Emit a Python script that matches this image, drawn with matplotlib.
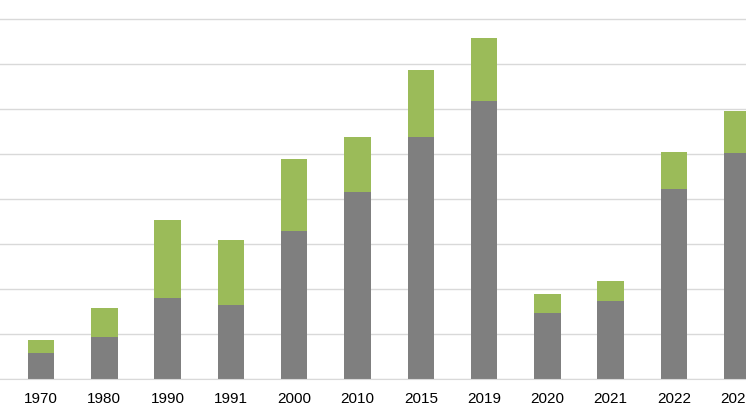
import numpy as np
import matplotlib.pyplot as plt

years = ["1970", "1980", "1990", "1991", "2000", "2010", "2015", "2019", "2020", "2021", "2022", "2023"]
gray_vals = [0.58, 0.93, 1.80, 1.64, 3.29, 4.16, 5.38, 6.18, 1.47, 1.73, 4.22, 5.02]
green_vals = [0.29, 0.65, 1.73, 1.45, 1.60, 1.22, 1.49, 1.40, 0.42, 0.45, 0.82, 0.94]

fig = plt.figure(figsize=(7.46, 4.19), dpi=100)
ax = fig.add_axes([0, 40 / 419, 1, 379 / 419])

x = np.arange(len(years))
ax.bar(x, gray_vals, width=0.42, color="#7f7f7f", zorder=3)
ax.bar(x, green_vals, width=0.42, bottom=gray_vals, color="#9bbb59", zorder=3)

ax.set_xlim(-41 / 63.3, (746 - 41) / 63.3)
ax.set_ylim(0, 379 / 45)
ax.set_yticks(np.arange(0, 9))
ax.yaxis.grid(True, color="#d9d9d9", linewidth=1, zorder=0)
ax.set_yticklabels([])
ax.tick_params(axis="y", length=0)
ax.set_xticks(x)
ax.set_xticklabels(years, fontsize=11, fontfamily="Liberation Sans", color="#000000")
ax.tick_params(axis="x", length=0, pad=9)
for s in ["top", "right", "left"]:
    ax.spines[s].set_visible(False)
ax.spines["bottom"].set_color("#d9d9d9")
ax.spines["bottom"].set_zorder(4)

fig.savefig("out.png", dpi=100)
